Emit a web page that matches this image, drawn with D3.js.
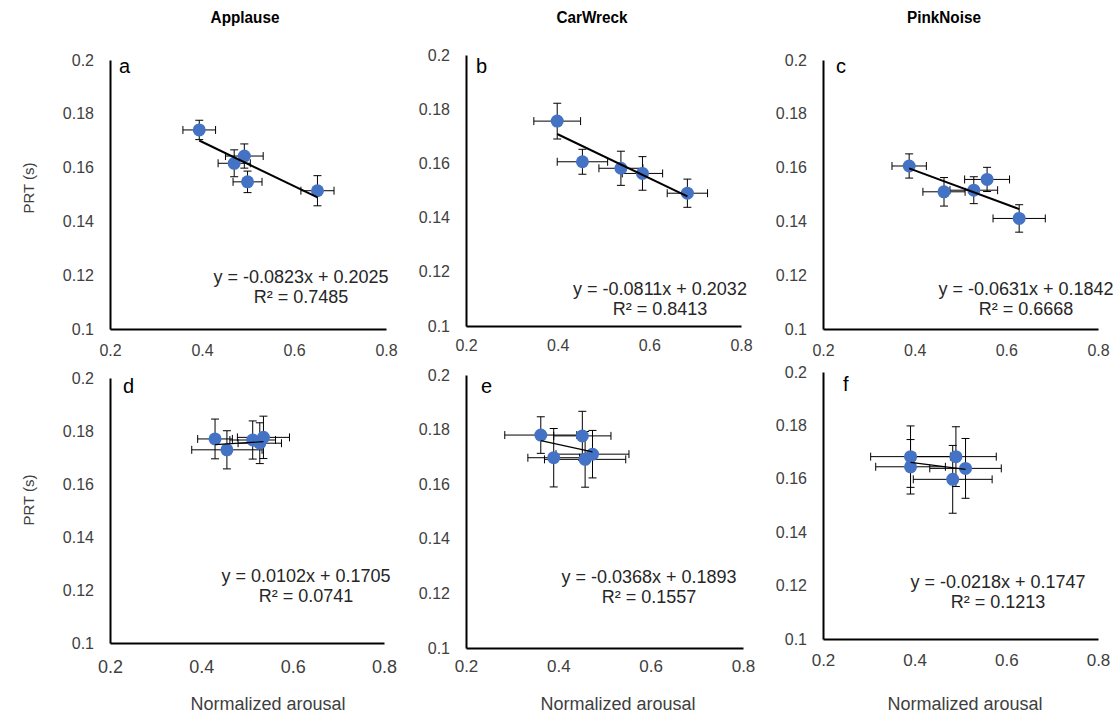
<!DOCTYPE html>
<html>
<head>
<meta charset="utf-8">
<script src="https://cdn.jsdelivr.net/npm/d3@7"></script>
<style>
  html, body { margin: 0; padding: 0; background: #fff; }
  svg { display: block; font-family: "Liberation Sans", Arial, sans-serif; }
</style>
</head>
<body>
<svg id="chart" width="1119" height="716"></svg>
<script>
// Sound categories (columns) and panel letters
const soundNames = ["Applause", "CarWreck", "PinkNoise"];
const panelLetters = ["a", "b", "c", "d", "e", "f"];

// Normalized arousal (x) per panel, with error half-widths
const arousal = [
  [0.394, 0.470, 0.492, 0.499, 0.651],
  [0.399, 0.454, 0.538, 0.585, 0.683],
  [0.388, 0.464, 0.529, 0.558, 0.628],
  [0.430, 0.456, 0.5125, 0.528, 0.536],
  [0.362, 0.452, 0.390, 0.458, 0.474],
  [0.391, 0.490, 0.391, 0.511, 0.483]
];
const arousalErr = [
  [0.0355, 0.035, 0.041, 0.0315, 0.036],
  [0.051, 0.055, 0.048, 0.044, 0.044],
  [0.0375, 0.046, 0.052, 0.049, 0.057],
  [0.038, 0.077, 0.050, 0.0475, 0.057],
  [0.078, 0.062, 0.056, 0.088, 0.079],
  [0.087, 0.088, 0.076, 0.078, 0.086]
];

// PRT in seconds (y) per panel, with error half-heights
const prt = [
  [0.174, 0.1616, 0.1643, 0.1547, 0.1514],
  [0.1756, 0.1606, 0.1582, 0.1563, 0.149],
  [0.1606, 0.151, 0.1516, 0.1556, 0.1411],
  [0.177, 0.1729, 0.1766, 0.1754, 0.1776],
  [0.178, 0.1777, 0.1697, 0.1691, 0.171],
  [0.1683, 0.1683, 0.1645, 0.1639, 0.1598]
];
const prtErr = [
  [0.0036, 0.005, 0.0045, 0.004, 0.0056],
  [0.0066, 0.0046, 0.0063, 0.0062, 0.0052],
  [0.0045, 0.0053, 0.005, 0.0045, 0.0051],
  [0.0075, 0.0072, 0.0072, 0.0077, 0.008],
  [0.0067, 0.009, 0.0107, 0.0102, 0.0087],
  [0.0115, 0.0112, 0.0102, 0.0112, 0.0127]
];

// Linear trendline fits
const slopes = [-0.0823, -0.0811, -0.0631, 0.0102, -0.0368, -0.0218];
const intercepts = [0.2025, 0.2032, 0.1842, 0.1705, 0.1893, 0.1747];
const rSquared = ["0.7485", "0.8413", "0.6668", "0.0741", "0.1557", "0.1213"];

// Axis ticks
const xTicks = [0.2, 0.4, 0.6, 0.8];
const xTickLabels = ["0.2", "0.4", "0.6", "0.8"];
const yTicks = [0.1, 0.12, 0.14, 0.16, 0.18, 0.2];
const yTickLabels = ["0.1", "0.12", "0.14", "0.16", "0.18", "0.2"];

// Plot-area placement of each panel (pixels)
const layout = [
  { left: 110, right: 386, top: 60,  bottom: 329, xLabDy: 23, xFont: 16, eq: [301, 278], letter: [119, 68] },
  { left: 466, right: 741, top: 55,  bottom: 326, xLabDy: 21, xFont: 16, eq: [660, 290], letter: [476, 68] },
  { left: 823, right: 1098, top: 60, bottom: 329, xLabDy: 23, xFont: 16, eq: [1026, 290], letter: [836, 68] },
  { left: 110, right: 384, top: 378, bottom: 643, xLabDy: 25, xFont: 18, eq: [306, 577], letter: [123, 388] },
  { left: 466, right: 743, top: 375, bottom: 648, xLabDy: 20, xFont: 17, eq: [649, 578], letter: [481, 388] },
  { left: 823, right: 1098, top: 372, bottom: 639, xLabDy: 23, xFont: 17, eq: [998, 583], letter: [843, 386] }
];

const blue = "#4472C4";
const svg = d3.select("#chart");

function fmtCoef(v) {
  return (v < 0 ? "-" : "") + Math.abs(v).toFixed(4);
}

panelLetters.forEach((letter, i) => {
  const L = layout[i];
  const x = d3.scaleLinear().domain([0.2, 0.8]).range([L.left, L.right]);
  const y = d3.scaleLinear().domain([0.1, 0.2]).range([L.bottom, L.top]);
  const g = svg.append("g");

  // Axes
  const xAxis = g.append("g").attr("transform", `translate(0,${L.bottom})`)
    .call(d3.axisBottom(x).tickValues(xTicks).tickSize(0).tickFormat((d, k) => xTickLabels[k]));
  xAxis.select(".domain").attr("stroke", "#000").attr("stroke-width", 2);
  xAxis.selectAll("text").attr("dy", null).attr("y", L.xLabDy).attr("dominant-baseline", "middle")
    .attr("font-size", L.xFont).attr("fill", "#404040").attr("font-family", "Liberation Sans, Arial, sans-serif");

  const yAxis = g.append("g").attr("transform", `translate(${L.left},0)`)
    .call(d3.axisLeft(y).tickValues(yTicks).tickSize(0).tickPadding(16).tickFormat((d, k) => yTickLabels[k]));
  yAxis.select(".domain").attr("stroke", "#000").attr("stroke-width", 2);
  yAxis.selectAll("text").attr("font-size", 16).attr("fill", "#404040")
    .attr("font-family", "Liberation Sans, Arial, sans-serif");

  // Panel letter
  g.append("text").attr("x", L.letter[0]).attr("y", L.letter[1]).attr("dominant-baseline", "middle")
    .attr("font-size", 20).attr("fill", "#000").text(letter);

  const pts = arousal[i].map((a, k) => ({ x: a, y: prt[i][k], ex: arousalErr[i][k], ey: prtErr[i][k] }));
  const cap = 4;

  // Error bars
  const eb = g.append("g").attr("stroke", "#000").attr("stroke-width", 1).attr("fill", "none");
  pts.forEach(p => {
    const cx = x(p.x), cy = y(p.y);
    const xl = x(p.x - p.ex), xr = x(p.x + p.ex);
    const yt = y(p.y + p.ey), yb = y(p.y - p.ey);
    eb.append("path").attr("d",
      `M${xl},${cy}H${xr}M${xl},${cy - cap}V${cy + cap}M${xr},${cy - cap}V${cy + cap}` +
      `M${cx},${yt}V${yb}M${cx - cap},${yt}H${cx + cap}M${cx - cap},${yb}H${cx + cap}`);
  });

  // Markers
  g.append("g").selectAll("circle").data(pts).join("circle")
    .attr("cx", d => x(d.x)).attr("cy", d => y(d.y)).attr("r", 6.5).attr("fill", blue);

  // Trendline across the data's x extent
  const [x0, x1] = d3.extent(arousal[i]);
  const line = d3.line().x(d => x(d[0])).y(d => y(d[1]));
  g.append("path")
    .attr("d", line([[x0, slopes[i] * x0 + intercepts[i]], [x1, slopes[i] * x1 + intercepts[i]]]))
    .attr("stroke", "#000").attr("stroke-width", i < 3 ? 2 : 1.2).attr("fill", "none");

  // Fit equation and R²
  const eq = g.append("text").attr("text-anchor", "middle").attr("font-size", 18).attr("fill", "#262626");
  eq.append("tspan").attr("x", L.eq[0]).attr("y", L.eq[1]).attr("dominant-baseline", "middle")
    .text(`y = ${fmtCoef(slopes[i])}x + ${fmtCoef(intercepts[i])}`);
  eq.append("tspan").attr("x", L.eq[0]).attr("y", L.eq[1] + 20).attr("dominant-baseline", "middle")
    .text(`R² = ${rSquared[i]}`);
});

// Column titles
const titleX = [245, 592, 944];
svg.selectAll(".col-title").data(soundNames).join("text")
  .attr("class", "col-title")
  .attr("transform", (d, k) => `translate(${titleX[k]},19) scale(0.9,1)`)
  .attr("dominant-baseline", "middle")
  .attr("text-anchor", "middle").attr("font-weight", "bold").attr("font-size", 17).attr("fill", "#000")
  .text(d => d);

// Axis titles
[188, 500].forEach(cy => {
  svg.append("text").attr("transform", `translate(30,${cy}) rotate(-90)`)
    .attr("text-anchor", "middle").attr("dominant-baseline", "middle")
    .attr("font-size", 15).attr("fill", "#404040").text("PRT (s)");
});
[268, 618, 965].forEach(cx => {
  svg.append("text").attr("x", cx).attr("y", 705).attr("text-anchor", "middle")
    .attr("dominant-baseline", "middle").attr("font-size", 18).attr("fill", "#404040")
    .text("Normalized arousal");
});
</script>
</body>
</html>
